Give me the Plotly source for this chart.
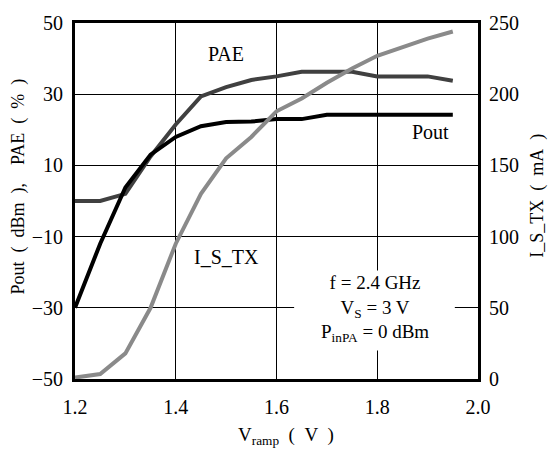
import plotly.graph_objects as go

# Ramp voltage sweep (V)
v_ramp = [1.2, 1.25, 1.3, 1.35, 1.4, 1.45, 1.5, 1.55, 1.6, 1.65, 1.7, 1.75, 1.8, 1.85, 1.9, 1.95]

# Output power (dBm)
pout = [-30, -12, 3.8, 13, 18, 21, 22.2, 22.3, 23, 23, 24.2, 24.2, 24.2, 24.2, 24.2, 24.2]

# Power-added efficiency (%)
pae = [0, 0, 2, 12.5, 21.5, 29.4, 32, 34, 35, 36.3, 36.3, 36.3, 35, 35, 35, 33.8]

# Transmit supply current (mA)
i_s_tx = [1, 3.5, 18, 50, 95, 130, 155, 170, 188, 197, 208, 218, 227, 233, 239, 244]

# Tick values
x_ticks = [1.2, 1.4, 1.6, 1.8, 2.0]
x_ticktext = ["1.2", "1.4", "1.6", "1.8", "2.0"]
y_ticks = [-50, -30, -10, 10, 30, 50]
y2_ticks = [0, 50, 100, 150, 200, 250]

# Measurement conditions
conditions = ["f = 2.4 GHz", "V<sub>S</sub> = 3 V", "P<sub>inPA</sub> = 0 dBm"]

FONT = "Liberation Serif, Times New Roman, serif"
EN = "\u2002"
EM = "\u2003"

fig = go.Figure()
fig.add_trace(go.Scatter(x=v_ramp, y=i_s_tx, yaxis="y2", mode="lines",
                         line=dict(color="#8a8a8a", width=4), name="I_S_TX"))
fig.add_trace(go.Scatter(x=v_ramp, y=pae, mode="lines",
                         line=dict(color="#404040", width=4), name="PAE"))
fig.add_trace(go.Scatter(x=v_ramp, y=pout, mode="lines",
                         line=dict(color="#000000", width=4), name="Pout"))

fig.update_layout(
    width=548, height=457,
    margin=dict(l=75, r=70, t=15, b=78),
    paper_bgcolor="white", plot_bgcolor="white",
    showlegend=False,
    font=dict(family=FONT, size=20, color="black"),
    xaxis=dict(
        range=[1.2, 2.0], tickvals=x_ticks, ticktext=x_ticktext,
        showgrid=True, gridcolor="black", gridwidth=1,
        showline=True, linecolor="black", linewidth=3, mirror=True,
        ticks="outside", ticklen=8, tickcolor="rgba(0,0,0,0)",
        zeroline=False,
    ),
    yaxis=dict(
        range=[-50, 50], tickvals=y_ticks,
        showgrid=True, gridcolor="black", gridwidth=1,
        showline=True, linecolor="black", linewidth=3, mirror=True,
        ticks="outside", ticklen=5, tickcolor="rgba(0,0,0,0)",
        zeroline=False,
    ),
    yaxis2=dict(
        range=[0, 250], tickvals=y2_ticks,
        overlaying="y", side="right", showgrid=False,
        showline=True, linecolor="black", linewidth=3,
        ticks="outside", ticklen=4, tickcolor="rgba(0,0,0,0)",
        zeroline=False,
    ),
)

# Axis titles
fig.add_annotation(xref="paper", yref="paper", x=-0.141, y=0.541,
                   xanchor="center", yanchor="middle", textangle=-90,
                   text=f"Pout{EN}({EN}dBm{EN}),{EM}PAE{EN}({EN}%{EN})",
                   showarrow=False, font=dict(size=18))
fig.add_annotation(xref="paper", yref="paper", x=1.146, y=0.514,
                   xanchor="center", yanchor="middle", textangle=-90,
                   text=f"I_S_TX{EN}({EN}mA{EN})",
                   showarrow=False, font=dict(size=18))
fig.add_annotation(xref="paper", yref="paper", x=0.524, y=-0.159,
                   xanchor="center", yanchor="middle",
                   text=f"V<sub>ramp</sub>{EN}({EN}V{EN})",
                   showarrow=False, font=dict(size=19))

# Curve labels
fig.add_annotation(x=1.5, y=41.3, text="PAE", showarrow=False)
fig.add_annotation(x=1.906, y=19.5, text="Pout", showarrow=False)
fig.add_annotation(x=1.5, y=-15.8, text="I_S_TX", showarrow=False)

# White panel behind the conditions text
fig.add_shape(type="rect", x0=1.635, x1=1.954, y0=-42, y1=-19.5,
              fillcolor="white", line=dict(width=0), layer="above")
fig.add_annotation(x=1.7955, y=-30.3, text="<br>".join(conditions),
                   showarrow=False, align="center", font=dict(size=19))

fig.write_html("out.html")
